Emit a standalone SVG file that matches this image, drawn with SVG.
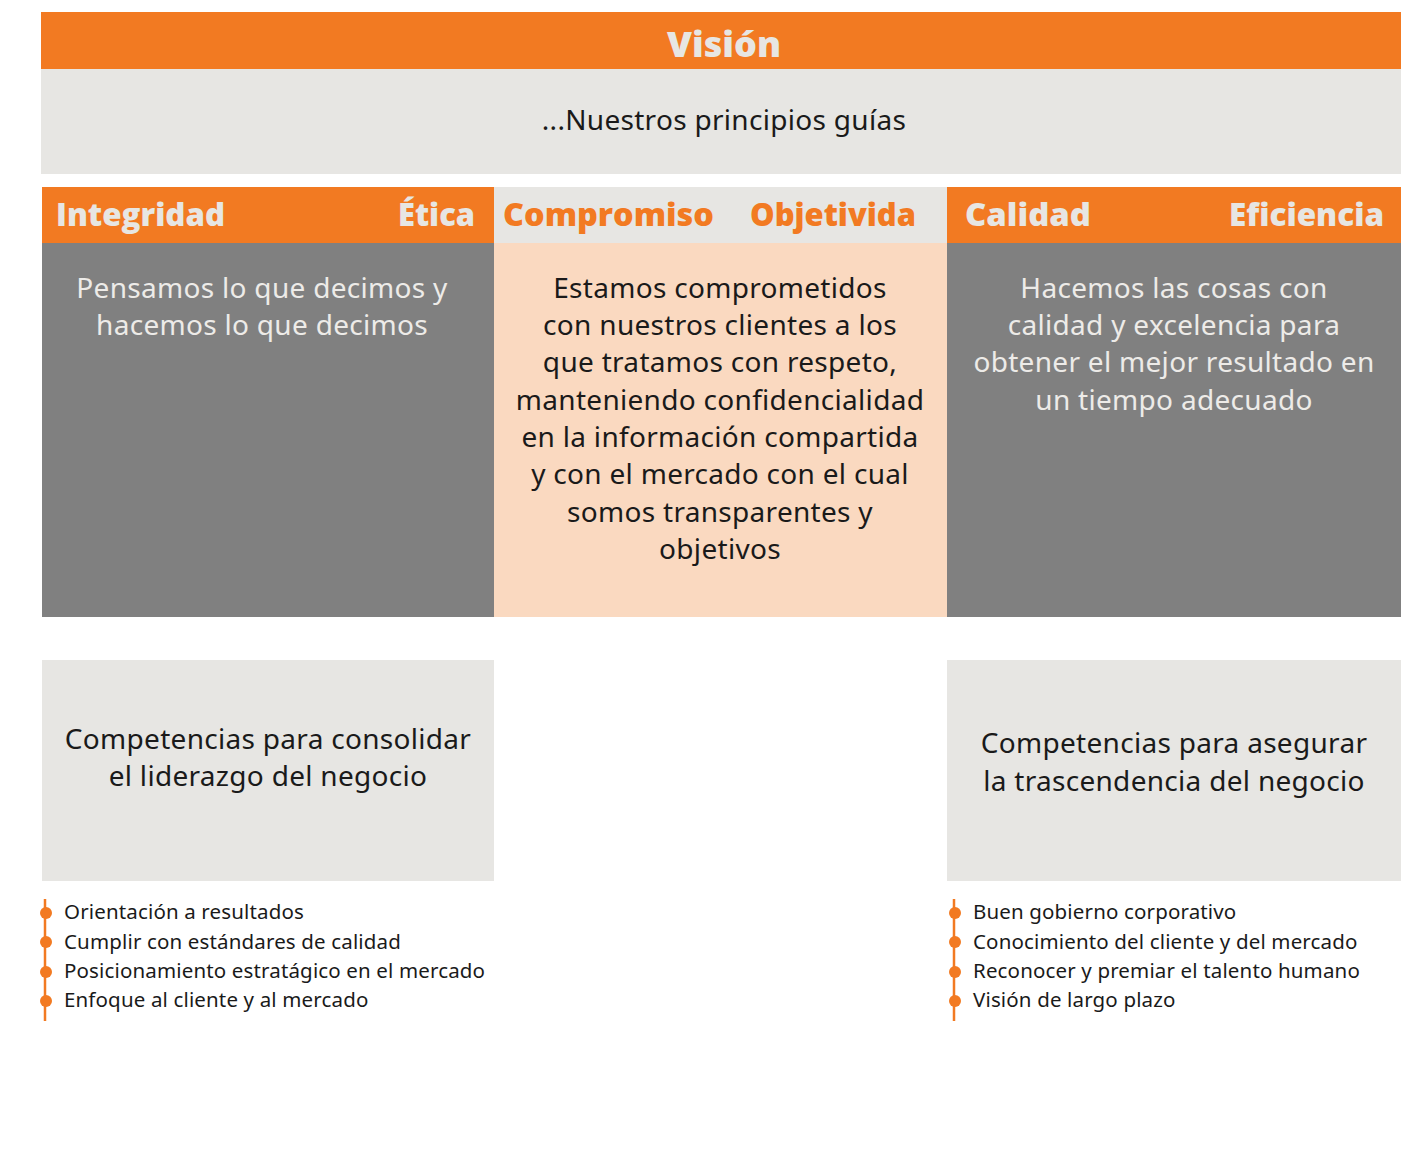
<svg xmlns="http://www.w3.org/2000/svg" width="1417" height="1168" viewBox="0 0 1417 1168">
<style>
.org{fill:#F27A22}
.lg{fill:#E7E6E3}
.dg{fill:#808080}
.pc{fill:#FAD9C0}
.hd{font-family:"Open Sans","Inter",sans-serif;font-weight:800;font-size:31.5px}
.bd{font-family:"Noto Sans","Lato",sans-serif;font-size:28px;letter-spacing:0.3px}
.bl{font-family:"Noto Sans","Lato",sans-serif;font-size:20.5px;letter-spacing:0.15px;fill:#1a1a1a}
</style>
<rect width="1417" height="1168" fill="#ffffff"/>
<g id="vision">
<rect class="org" x="41" y="12" width="1360" height="57"/>
<text x="724" y="57" text-anchor="middle" style="font-family:'Open Sans',sans-serif;font-weight:800;font-size:36px" fill="#E7E6E3">Visión</text>
</g>
<g id="principios">
<rect class="lg" x="41" y="69" width="1360" height="105"/>
<text class="bd" x="724" y="130" text-anchor="middle" fill="#1a1a1a">...Nuestros principios guías</text>
</g>
<g id="integridad">
<rect class="org" x="42" y="187" width="452" height="56"/>
<rect class="dg" x="42" y="243" width="452" height="374"/>
<text class="hd" x="56" y="226" fill="#E7E6E3" textLength="169" lengthAdjust="spacingAndGlyphs">Integridad</text>
<text class="hd" x="398" y="226" fill="#E7E6E3" textLength="77" lengthAdjust="spacingAndGlyphs">Ética</text>
<text class="bd" text-anchor="middle" fill="#EDEBE8"><tspan x="262" y="298">Pensamos lo que decimos y</tspan><tspan x="262" y="335">hacemos lo que decimos</tspan></text>
</g>
<g id="compromiso">
<rect class="lg" x="494" y="187" width="453" height="56"/>
<rect class="pc" x="494" y="243" width="453" height="374"/>
<text class="hd" x="503" y="226" fill="#F27A22" textLength="211" lengthAdjust="spacingAndGlyphs">Compromiso</text>
<text class="hd" x="750" y="226" fill="#F27A22" textLength="166" lengthAdjust="spacingAndGlyphs">Objetivida</text>
<text class="bd" text-anchor="middle" fill="#1a1a1a"><tspan x="720" y="298">Estamos comprometidos</tspan><tspan x="720" y="335">con nuestros clientes a los</tspan><tspan x="720" y="372">que tratamos con respeto,</tspan><tspan x="720" y="410">manteniendo confidencialidad</tspan><tspan x="720" y="447">en la información compartida</tspan><tspan x="720" y="484">y con el mercado con el cual</tspan><tspan x="720" y="522">somos transparentes y</tspan><tspan x="720" y="559">objetivos</tspan></text>
</g>
<g id="calidad">
<rect class="org" x="947" y="187" width="454" height="56"/>
<rect class="dg" x="947" y="243" width="454" height="374"/>
<text class="hd" x="965" y="226" fill="#E7E6E3" textLength="126" lengthAdjust="spacingAndGlyphs">Calidad</text>
<text class="hd" x="1229" y="226" fill="#E7E6E3" textLength="155" lengthAdjust="spacingAndGlyphs">Eficiencia</text>
<text class="bd" text-anchor="middle" fill="#EDEBE8"><tspan x="1174" y="298">Hacemos las cosas con</tspan><tspan x="1174" y="335">calidad y excelencia para</tspan><tspan x="1174" y="372">obtener el mejor resultado en</tspan><tspan x="1174" y="410">un tiempo adecuado</tspan></text>
</g>
<g id="liderazgo">
<rect class="lg" x="42" y="660" width="452" height="221"/>
<text class="bd" text-anchor="middle" fill="#1a1a1a"><tspan x="268" y="749">Competencias para consolidar</tspan><tspan x="268" y="786">el liderazgo del negocio</tspan></text>
</g>
<g id="trascendencia">
<rect class="lg" x="947" y="660" width="454" height="221"/>
<text class="bd" text-anchor="middle" fill="#1a1a1a"><tspan x="1174" y="753">Competencias para asegurar</tspan><tspan x="1174" y="791">la trascendencia del negocio</tspan></text>
</g>
<g id="lista-izq">
<line x1="45" y1="899" x2="45" y2="1021" stroke="#F27A22" stroke-width="2.5"/>
<circle class="org" cx="46" cy="913" r="6"/>
<circle class="org" cx="46" cy="942" r="6"/>
<circle class="org" cx="46" cy="972" r="6"/>
<circle class="org" cx="46" cy="1001" r="6"/>
<text class="bl"><tspan x="64" y="919">Orientación a resultados</tspan><tspan x="64" y="949">Cumplir con estándares de calidad</tspan><tspan x="64" y="978">Posicionamiento estratágico en el mercado</tspan><tspan x="64" y="1007">Enfoque al cliente y al mercado</tspan></text>
</g>
<g id="lista-der">
<line x1="954" y1="899" x2="954" y2="1021" stroke="#F27A22" stroke-width="2.5"/>
<circle class="org" cx="955" cy="913" r="6"/>
<circle class="org" cx="955" cy="942" r="6"/>
<circle class="org" cx="955" cy="972" r="6"/>
<circle class="org" cx="955" cy="1001" r="6"/>
<text class="bl"><tspan x="973" y="919">Buen gobierno corporativo</tspan><tspan x="973" y="949">Conocimiento del cliente y del mercado</tspan><tspan x="973" y="978">Reconocer y premiar el talento humano</tspan><tspan x="973" y="1007">Visión de largo plazo</tspan></text>
</g>
<g id="connectors"></g>
</svg>
